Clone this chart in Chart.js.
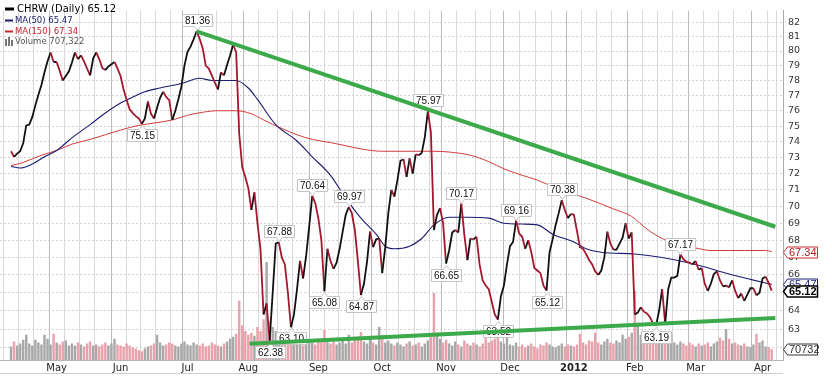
<!DOCTYPE html>
<html>
<head>
<meta charset="utf-8">
<script src="https://cdn.jsdelivr.net/npm/chart.js@4.4.1/dist/chart.umd.min.js"></script>
<style>
  html, body { margin: 0; padding: 0; background: #fff; }
  #wrap { width: 832px; height: 378px; position: relative; }
</style>
</head>
<body>
<div id="wrap"><canvas id="grafico"></canvas></div>
<script>
// CHRW diario, 8 abr 2011 (dia 0) .. 5 abr 2012 (dia 250)
const closes = [
  73.4,73.05,73.25,73.4,73.9,75.05,75.1,75.6,76.35,77.05,
  77.7,78.55,79.3,79.9,79.25,79.25,78.65,78.0,78.3,78.6,
  79.2,79.9,79.45,79.7,79.3,78.8,78.35,79.5,79.9,79.45,
  78.85,78.7,78.95,79.1,79.25,78.8,78.3,77.4,76.7,76.1,
  75.85,75.65,75.5,75.15,75.5,76.6,75.8,75.5,76.2,76.85,
  77.25,76.9,76.7,75.4,76.0,76.75,77.6,79.0,79.95,80.3,
  80.8,81.36,80.85,80.2,79.0,78.8,78.35,77.85,77.4,78.55,
  78.35,79.05,79.7,80.45,79.9,74.5,72.4,71.8,71.1,69.8,
  70.85,69.0,67.45,63.8,64.4,62.38,65.0,67.8,67.88,67.0,
  66.6,65.0,63.1,63.8,65.2,66.8,65.8,67.1,68.8,70.64,
  70.2,69.3,68.0,65.08,67.5,66.8,66.35,66.7,67.5,68.5,
  69.5,69.97,69.6,68.6,66.8,64.87,65.5,66.75,68.5,67.6,
  68.05,68.1,66.1,67.6,69.6,71.0,70.6,71.6,72.8,72.9,
  71.8,72.95,72.0,73.2,73.15,73.3,74.3,75.97,74.6,68.6,
  69.5,69.9,69.0,66.65,67.4,68.45,68.6,68.45,70.17,68.3,
  66.85,68.1,68.05,68.2,66.6,65.7,65.4,65.2,64.5,63.8,
  63.52,64.8,65.4,66.6,67.65,67.9,69.16,68.4,68.2,67.5,
  68.0,67.3,66.4,66.25,66.1,65.4,65.12,67.3,68.05,68.9,
  69.6,70.38,69.8,69.3,69.55,69.5,68.55,67.6,67.5,67.2,
  66.85,66.6,66.2,66.0,66.25,67.0,68.5,67.8,67.45,67.45,
  67.8,68.15,69.0,68.1,68.45,63.8,63.9,64.2,63.95,63.85,
  63.65,63.3,63.19,64.0,65.2,63.3,65.2,65.85,65.85,65.95,
  67.17,66.9,66.75,66.7,66.6,66.8,66.3,66.4,65.5,65.1,
  65.5,66.05,66.2,65.7,65.35,65.4,65.3,65.7,65.1,64.7,
  64.95,64.55,64.9,65.25,65.25,64.85,65.0,65.8,65.9,65.55,
  65.12
];

// volumen en miles de acciones
const volumes = [
  900,1220,960,1090,1350,1670,1090,960,1350,1160,1030,
  1670,1410,1030,1740,1160,1030,1220,1290,960,1090,
  960,1160,1030,900,1090,1220,960,1030,900,1030,
  1160,960,1090,1410,1030,960,900,1090,960,840,
  770,640,580,770,900,960,1090,1670,1160,960,
  1030,1160,1090,960,900,1090,1220,1030,960,1160,
  1030,960,1090,900,960,1160,1030,960,900,1090,
  1220,1410,1540,1740,3920,2310,1930,1670,1800,1610,
  2190,1930,2700,6490,2570,2190,1930,1540,1290,1160,
  1410,1800,1290,1410,1090,960,1160,1290,1160,1030,
  1220,1350,1990,1290,1090,1220,1030,1160,1290,1090,
  1670,1160,1410,1540,1860,1220,1090,1410,1160,1030,
  2190,1670,1160,1290,1090,960,1160,1030,900,1090,
  1220,960,1030,1160,900,1090,1290,1540,4440,1800,
  1410,1160,1350,1090,960,1220,1030,900,1290,1090,
  960,1160,1030,900,1090,1670,1160,1290,1410,1540,
  1220,1090,1540,1030,960,1160,900,1030,840,960,
  1090,900,770,1030,960,1160,1030,900,840,960,
  1090,900,1030,960,900,1030,1740,1160,1030,1290,
  1220,1800,1160,1030,1220,1410,1160,1090,1290,1160,
  1670,1410,1540,1800,4570,2310,1670,1410,1290,1160,
  1350,1220,1740,1410,1540,1290,1670,1160,1030,1220,
  1090,960,1160,1030,900,1090,960,1030,1160,900,
  1090,1220,1480,1290,2060,1410,1090,1160,1030,960,
  1090,900,840,1030,1740,1160,1290,900,840,707.322
];

const ma50Days = [0,3,7,11,15,20,26,31,36,39,44,49,56,62,66,74,78,81,87,94,99,105,110,115,120,123,126,131,135,139,144,150,157,162,168,173,178,185,189,194,205,214,225,236,243,250];
const ma50Vals = [72.45,72.35,72.6,73.05,73.45,74.25,75.1,75.85,76.5,76.8,77.25,77.5,77.8,78.15,78.0,78.0,77.5,76.75,75.1,74.05,73.05,71.9,70.5,69.3,68.35,67.65,67.5,67.65,68.1,68.9,69.35,69.35,69.3,69.0,68.95,68.9,68.35,67.9,67.5,67.3,67.2,67.0,66.6,66.05,65.75,65.47];

const ma150Days = [0,4,10,15,20,26,31,36,42,47,53,58,63,68,74,79,83,89,94,99,105,110,115,122,139,144,151,157,162,168,173,178,184,189,198,204,209,214,220,225,230,236,241,248,250];
const ma150Vals = [72.5,72.7,73.15,73.45,73.85,74.15,74.45,74.75,75.05,75.2,75.4,75.7,75.9,76.0,76.0,75.8,75.4,74.85,74.45,74.15,73.95,73.75,73.55,73.4,73.4,73.35,73.15,72.75,72.3,71.9,71.6,71.2,70.8,70.5,69.85,69.4,68.65,68.1,67.7,67.55,67.4,67.4,67.4,67.4,67.34];

// lineas de tendencia
const upperDays = [61, 251.2];
const upperVals = [81.36, 68.79];
const lowerDays = [78.4, 251.2];
const lowerVals = [62.21, 63.61];

// maximos y minimos marcados
const peakDays = [61, 88, 99, 111, 137, 148, 166, 181, 220];
const troughDays = [43, 85, 92, 103, 115, 143, 160, 176, 212];

const monthDays = [15, 36, 58, 78, 101, 122, 143, 164, 185, 205, 225, 247];
const monthLabels = ['May','Jun','Jul','Aug','Sep','Oct','Nov','Dec','2012','Feb','Mar','Apr'];
const priceTicks = [62,63,64,65,66,67,68,69,70,71,72,73,74,75,76,77,78,79,80,81,82];
const priceLabels = [63,64,65,66,67,68,69,70,71,72,73,74,75,76,77,78,79,80,81,82];

const ROJO = '#a3172f';
const NEGRO = '#111111';
const pts = (xs, ys) => xs.map((x, i) => ({ x: x, y: ys[i] }));

function cajaValor(ctx, px, py, texto, arriba) {
  ctx.font = '10px "Liberation Sans", Arial, sans-serif';
  const w = Math.round(ctx.measureText(texto).width) + 5;
  const h = 12;
  const left = Math.round(px - w / 2) + 0.5;
  const top = arriba ? Math.round(py - 5 - h) + 0.5 : Math.round(py + 5) + 0.5;
  const cx = Math.round(px) + 0.5;
  ctx.beginPath();
  if (arriba) {
    ctx.moveTo(left, top); ctx.lineTo(left + w, top); ctx.lineTo(left + w, top + h);
    ctx.lineTo(cx + 3, top + h); ctx.lineTo(cx, top + h + 4); ctx.lineTo(cx - 3, top + h);
    ctx.lineTo(left, top + h);
  } else {
    ctx.moveTo(left, top); ctx.lineTo(cx - 3, top); ctx.lineTo(cx, top - 4); ctx.lineTo(cx + 3, top);
    ctx.lineTo(left + w, top); ctx.lineTo(left + w, top + h); ctx.lineTo(left, top + h);
  }
  ctx.closePath();
  ctx.fillStyle = '#ffffff';
  ctx.fill();
  ctx.strokeStyle = '#c4c4c4';
  ctx.lineWidth = 1;
  ctx.stroke();
  ctx.fillStyle = '#111';
  ctx.textAlign = 'center';
  ctx.textBaseline = 'middle';
  ctx.fillText(texto, left + w / 2, top + h / 2 + 0.5);
}

function etiquetaEje(ctx, x0, y, texto, borde, color, negrita) {
  const yy = Math.round(y) + 0.5;
  ctx.beginPath();
  ctx.moveTo(x0 + 0.5, yy);
  ctx.lineTo(x0 + 4.5, yy - 5.5);
  ctx.lineTo(x0 + 34.5, yy - 5.5);
  ctx.lineTo(x0 + 34.5, yy + 5.5);
  ctx.lineTo(x0 + 4.5, yy + 5.5);
  ctx.closePath();
  ctx.fillStyle = '#fff';
  ctx.fill();
  ctx.strokeStyle = borde;
  ctx.lineWidth = negrita ? 1.5 : 1;
  ctx.stroke();
  ctx.font = (negrita ? 'bold ' : '') + '11px "Liberation Sans", Arial, sans-serif';
  ctx.fillStyle = color;
  ctx.textAlign = 'left';
  ctx.textBaseline = 'middle';
  ctx.fillText(texto, x0 + 6, yy + 0.5);
}

const anotaciones = {
  id: 'anotaciones',
  afterDatasetDraw(chart, args) {
    if (args.index !== 0) return;
    const ctx = chart.ctx;
    const xs = chart.scales.x, ys = chart.scales.y;
    ctx.save();
    peakDays.forEach(d => cajaValor(ctx, xs.getPixelForValue(d), ys.getPixelForValue(closes[d]), closes[d].toFixed(2), true));
    troughDays.forEach(d => cajaValor(ctx, xs.getPixelForValue(d), ys.getPixelForValue(closes[d]), closes[d].toFixed(2), false));
    ctx.restore();
  },
  afterDraw(chart) {
    const ctx = chart.ctx;
    const area = chart.chartArea;
    const ys = chart.scales.y, yv = chart.scales.yv;
    const last = closes[closes.length - 1];
    const m50 = ma50Vals[ma50Vals.length - 1];
    const m150 = ma150Vals[ma150Vals.length - 1];
    const vol = volumes[volumes.length - 1];
    ctx.save();

    // marcas del eje derecho
    etiquetaEje(ctx, area.right, ys.getPixelForValue(m150), m150.toFixed(2), '#c83232', '#b01e1e', false);
    etiquetaEje(ctx, area.right, ys.getPixelForValue(m50), m50.toFixed(2), '#1e1e78', '#1e1e78', false);
    etiquetaEje(ctx, area.right, ys.getPixelForValue(last), last.toFixed(2), '#000', '#000', true);
    etiquetaEje(ctx, area.right, yv.getPixelForValue(vol), String(Math.round(vol * 1000)).slice(0, 5), '#333', '#333', false);

    // leyenda
    ctx.textAlign = 'left';
    ctx.textBaseline = 'middle';
    ctx.lineWidth = 3;
    ctx.strokeStyle = '#000';
    ctx.beginPath(); ctx.moveTo(5, 9); ctx.lineTo(14, 9); ctx.stroke();
    ctx.font = '10px "DejaVu Sans", Verdana, sans-serif';
    ctx.fillStyle = '#000';
    ctx.fillText('CHRW (Daily) ' + last.toFixed(2), 17, 9);

    ctx.lineWidth = 2;
    ctx.strokeStyle = '#1a1a66';
    ctx.beginPath(); ctx.moveTo(5, 20.5); ctx.lineTo(13, 20.5); ctx.stroke();
    ctx.font = '8.5px "DejaVu Sans", Verdana, sans-serif';
    ctx.fillStyle = '#1a1a66';
    ctx.fillText('MA(50) ' + m50.toFixed(2), 15, 20.5);

    ctx.strokeStyle = '#c0282d';
    ctx.beginPath(); ctx.moveTo(5, 31.5); ctx.lineTo(13, 31.5); ctx.stroke();
    ctx.fillStyle = '#c0282d';
    ctx.fillText('MA(150) ' + m150.toFixed(2), 15, 31.5);

    ctx.fillStyle = '#777';
    ctx.fillRect(5, 39, 2, 7);
    ctx.fillRect(8, 37, 2, 9);
    ctx.fillRect(11, 40, 2, 6);
    ctx.fillStyle = '#555';
    ctx.fillText('Volume ' + Math.round(vol * 1000).toLocaleString('en-US'), 15, 42);

    // linea inferior
    ctx.strokeStyle = '#cfcfcf';
    ctx.lineWidth = 1;
    ctx.beginPath(); ctx.moveTo(0, 373.5); ctx.lineTo(area.right, 373.5); ctx.stroke();
    ctx.restore();
  }
};

const xTicks = [];
for (let d = 0; d <= 250; d += 5) {
  if (!monthDays.some(m => Math.abs(m - d) < 3)) xTicks.push(d);
}
monthDays.forEach(m => xTicks.push(m));
xTicks.sort((a, b) => a - b);

const ctxGrafico = document.getElementById('grafico').getContext('2d');
new Chart(ctxGrafico, {
  type: 'line',
  data: {
    datasets: [
      {
        label: 'CHRW',
        data: closes.map((v, i) => ({ x: i, y: v })),
        yAxisID: 'y',
        borderWidth: 1.8,
        pointRadius: 0,
        borderColor: NEGRO,
        segment: {
          borderColor: c => c.p1.parsed.y < c.p0.parsed.y ? ROJO : NEGRO
        },
        order: 2
      },
      {
        label: 'MA(50)',
        data: pts(ma50Days, ma50Vals),
        yAxisID: 'y',
        borderColor: '#1c1c72',
        borderWidth: 1.1,
        pointRadius: 0,
        cubicInterpolationMode: 'monotone',
        order: 3
      },
      {
        label: 'MA(150)',
        data: pts(ma150Days, ma150Vals),
        yAxisID: 'y',
        borderColor: '#d23a3a',
        borderWidth: 1,
        pointRadius: 0,
        cubicInterpolationMode: 'monotone',
        order: 4
      },
      {
        type: 'bar',
        label: 'Volume',
        data: volumes.map((v, i) => ({ x: i, y: v })),
        yAxisID: 'yv',
        backgroundColor: volumes.map((v, i) => (i > 0 && closes[i] < closes[i - 1]) ? '#e8a2ab' : '#a8a8a8'),
        barPercentage: 0.8,
        categoryPercentage: 1,
        order: 10
      },
      {
        label: 'upper',
        data: pts(upperDays, upperVals),
        yAxisID: 'y',
        borderColor: '#3caa4a',
        borderWidth: 4,
        pointRadius: 0,
        order: 0
      },
      {
        label: 'lower',
        data: pts(lowerDays, lowerVals),
        yAxisID: 'y',
        borderColor: '#3caa4a',
        borderWidth: 4,
        pointRadius: 0,
        order: 0
      }
    ]
  },
  options: {
    responsive: true,
    maintainAspectRatio: false,
    animation: false,
    layout: { padding: 0 },
    plugins: { legend: { display: false }, tooltip: { enabled: false } },
    scales: {
      x: {
        type: 'linear',
        position: 'bottom',
        min: -1.1,
        max: 251.2,
        afterBuildTicks: s => { s.ticks = xTicks.map(v => ({ value: v })); },
        afterFit: s => { s.height = 18; },
        grid: {
          drawTicks: false,
          color: c => (c.tick && monthDays.includes(c.tick.value)) ? '#bcbcbc' : '#d9d9d9'
        },
        border: { display: true, color: '#b5b5b5' },
        ticks: {
          autoSkip: false,
          maxRotation: 0,
          minRotation: 0,
          padding: 2,
          color: '#222',
          font: c => ({
            family: '"DejaVu Sans", Verdana, sans-serif',
            size: 10,
            weight: (c.tick && monthLabels[monthDays.indexOf(c.tick.value)] === '2012') ? 'bold' : 'normal'
          }),
          callback: v => {
            const i = monthDays.indexOf(v);
            return i >= 0 ? monthLabels[i] : '';
          }
        }
      },
      y: {
        type: 'logarithmic',
        position: 'right',
        min: 61.35,
        max: 82.82,
        afterBuildTicks: s => { s.ticks = priceTicks.map(v => ({ value: v })); },
        afterFit: s => { s.width = 49; },
        grid: { drawTicks: false, color: '#d3d3d3' },
        border: { display: true, color: '#aaaaaa', dash: [2, 2] },
        ticks: {
          autoSkip: false,
          padding: 5,
          color: '#333',
          font: { family: '"DejaVu Sans", Verdana, sans-serif', size: 9.5 },
          callback: v => priceLabels.includes(v) ? String(v) : ''
        }
      },
      yv: {
        type: 'linear',
        display: false,
        min: 0,
        max: 23150
      }
    }
  },
  plugins: [anotaciones]
});
</script>
</body>
</html>
